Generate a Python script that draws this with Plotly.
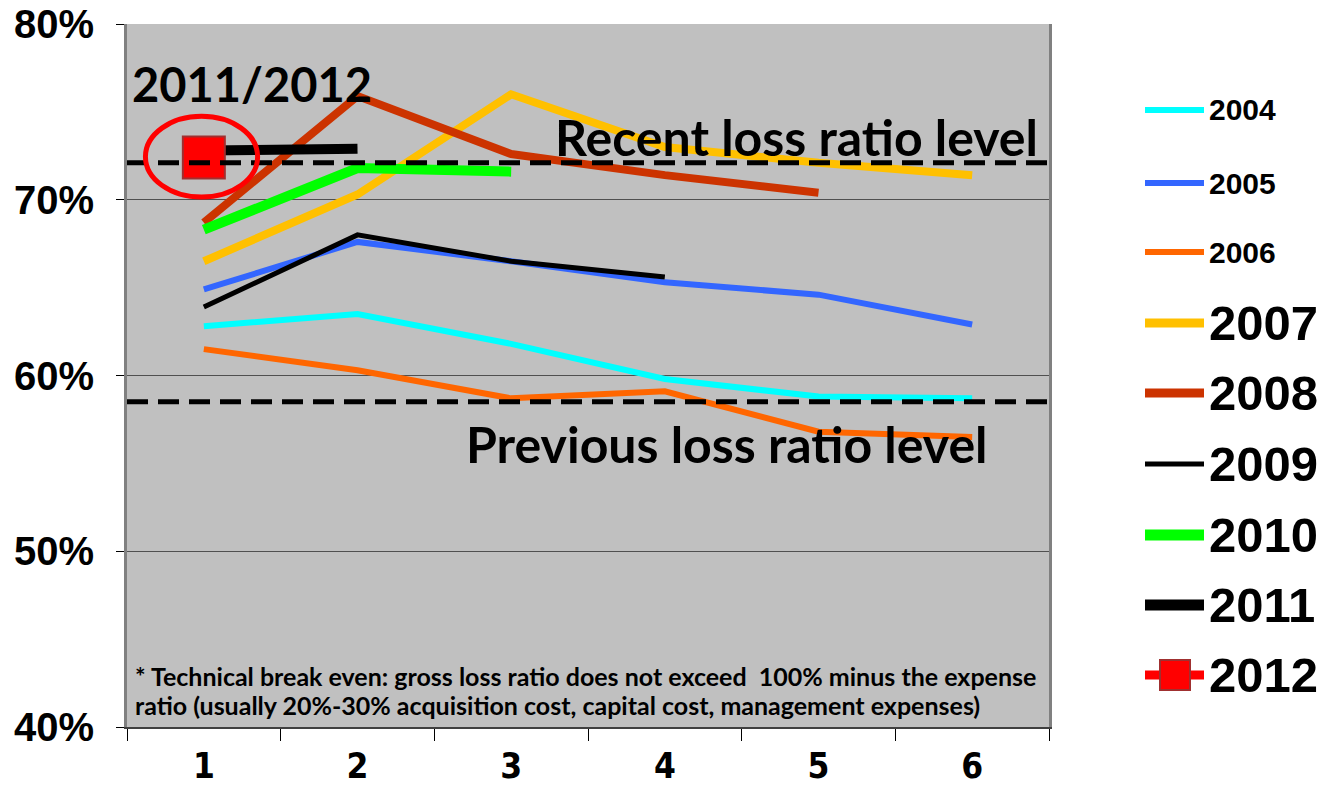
import plotly.graph_objects as go

# Development periods on the x axis
periods = ["1", "2", "3", "4", "5", "6"]

# Gross loss ratio (%) by underwriting year
lr_2004 = [62.8, 63.5, 61.8, 59.8, 58.8, 58.7]
lr_2005 = [64.9, 67.6, 66.5, 65.3, 64.6, 62.9]
lr_2006 = [61.5, 60.3, 58.7, 59.1, 56.8, 56.5]
lr_2007 = [66.5, 70.3, 76.0, 73.0, 72.1, 71.4]
lr_2008 = [68.7, 75.9, 72.6, 71.4, 70.4]
lr_2009 = [63.9, 68.0, 66.5, 65.6]
lr_2010 = [68.3, 71.8, 71.6]
lr_2011 = [72.8, 72.9]
lr_2012 = [72.4]

# Reference levels (%)
recent_level = 72.1
previous_level = 58.5

y_ticks = [40, 50, 60, 70, 80]
y_tick_text = ["40%", "50%", "60%", "70%", "80%"]

series = [
    ("2004", lr_2004, "#00FFFF", 6),
    ("2005", lr_2005, "#3366FF", 6),
    ("2006", lr_2006, "#FF6600", 6),
    ("2007", lr_2007, "#FFC000", 8),
    ("2008", lr_2008, "#CC3300", 8),
    ("2009", lr_2009, "#000000", 5),
    ("2010", lr_2010, "#00FF00", 10),
    ("2011", lr_2011, "#000000", 10),
]

fig = go.Figure()
for name, vals, color, width in series:
    fig.add_trace(go.Scatter(
        x=periods[:len(vals)], y=vals, mode="lines", name=name,
        line=dict(color=color, width=width), showlegend=False,
        hoverinfo="skip",
    ))
fig.add_trace(go.Scatter(
    x=periods[:len(lr_2012)], y=lr_2012, mode="markers", name="2012",
    marker=dict(symbol="square", size=42, color="#FF0000",
                line=dict(color="#A03030", width=2)),
    showlegend=False, hoverinfo="skip",
))

# Plot area geometry (pixels) for placing paper-referenced items
L, R, T, B = 127, 1049, 24, 727
W, H = R - L, B - T


def px(x):
    return (x - L) / W


def py(y):
    return (B - y) / H


shapes = []
# Dashed reference levels
for lvl in (recent_level, previous_level):
    shapes.append(dict(type="line", xref="paper", yref="y", x0=0, x1=1,
                       y0=lvl, y1=lvl, layer="above",
                       line=dict(color="black", width=5, dash="21px,10px")))
# Highlight ellipse around the latest points
shapes.append(dict(type="circle", xref="x", yref="y", x0=-0.38, x1=0.35,
                   y0=70.15, y1=74.75, layer="above",
                   line=dict(color="#FF0000", width=5)))

# Legend built from swatches and labels
legend_rows = [
    ("2004", "#00FFFF", 6, 110, 30),
    ("2005", "#3366FF", 6, 183, 30),
    ("2006", "#FF6600", 6, 252, 30),
    ("2007", "#FFC000", 9, 323, 49),
    ("2008", "#CC3300", 9, 393, 49),
    ("2009", "#000000", 5, 464, 49),
    ("2010", "#00FF00", 11, 535, 49),
    ("2011", "#000000", 11, 605, 49),
    ("2012", "#FF0000", 9, 675, 49),
]
annotations = []
for name, color, width, yc, fs in legend_rows:
    shapes.append(dict(type="line", xref="paper", yref="paper",
                       x0=px(1145), x1=px(1204), y0=py(yc), y1=py(yc),
                       line=dict(color=color, width=width)))
    annotations.append(dict(xref="paper", yref="paper", x=px(1207), y=py(yc),
                            text=name, showarrow=False, xanchor="left",
                            yanchor="middle",
                            font=dict(family="Liberation Sans", size=fs,
                                      color="black", weight="bold")))
shapes.append(dict(type="rect", xref="paper", yref="paper",
                   x0=px(1160), x1=px(1190), y0=py(690), y1=py(660),
                   fillcolor="#FF0000", line=dict(color="#A03030", width=2)))

text_font = dict(family="Lato", color="black", weight="bold")
annotations += [
    dict(xref="paper", yref="paper", x=px(252), y=py(84), text="2011/2012",
         showarrow=False, xanchor="center", yanchor="middle",
         font=dict(size=47, **text_font)),
    dict(xref="paper", yref="paper", x=px(796), y=py(137),
         text="Recent loss ratio level", showarrow=False,
         xanchor="center", yanchor="middle", font=dict(size=50, **text_font)),
    dict(xref="paper", yref="paper", x=px(727), y=py(444),
         text="Previous loss ratio level", showarrow=False,
         xanchor="center", yanchor="middle", font=dict(size=50, **text_font)),
    dict(xref="paper", yref="paper", x=px(133), y=py(676),
         text="* Technical break even: gross loss ratio does not exceed  100% minus the expense",
         showarrow=False, xanchor="left", yanchor="middle",
         font=dict(size=25, **text_font)),
    dict(xref="paper", yref="paper", x=px(133), y=py(705),
         text="ratio (usually 20%-30% acquisition cost, capital cost, management expenses)",
         showarrow=False, xanchor="left", yanchor="middle",
         font=dict(size=25, **text_font)),
]

fig.update_layout(
    width=1326, height=789,
    margin=dict(l=L, r=1326 - R, t=T, b=789 - B, pad=0),
    paper_bgcolor="white",
    plot_bgcolor="#C0C0C0",
    shapes=shapes,
    annotations=annotations,
    showlegend=False,
    xaxis=dict(
        type="category", categoryorder="array", categoryarray=periods,
        range=[-0.5, 5.5], showgrid=False, zeroline=False, automargin=False,
        showline=True, linecolor="#404040", linewidth=2,
        ticks="outside", tickson="boundaries", ticklen=12,
        tickcolor="black", tickwidth=1, ticklabelstandoff=7,
        tickfont=dict(family="DejaVu Sans Condensed, Liberation Sans",
                      size=35, color="black", weight="bold"),
    ),
    yaxis=dict(
        range=[40, 80], tickvals=y_ticks, ticktext=y_tick_text,
        showgrid=True, gridcolor="#505050", gridwidth=1, zeroline=False,
        automargin=False,
        showline=True, mirror=True, linecolor="#808080", linewidth=3,
        ticks="outside", ticklen=8, tickcolor="black", tickwidth=1,
        ticklabelstandoff=14,
        tickfont=dict(family="Liberation Sans", size=40, color="black",
                      weight="bold"),
    ),
)

fig.write_html("out.html")
